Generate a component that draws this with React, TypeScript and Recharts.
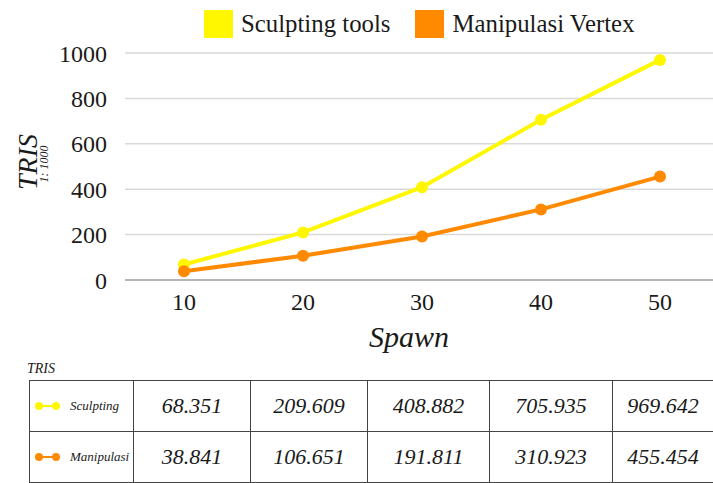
import React from 'react';
import { LineChart, Line, XAxis, YAxis, CartesianGrid, Label } from 'recharts';

const spawnCategories = [10, 20, 30, 40, 50];
const sculptingValues = [68.351, 209.609, 408.882, 705.935, 969.642];
const manipulasiValues = [38.841, 106.651, 191.811, 310.923, 455.454];
const yTicks = [0, 200, 400, 600, 800, 1000];
const seriesNames = ['Sculpting tools', 'Manipulasi Vertex'];
const seriesKeys = ['sculpting', 'manipulasi'];
const seriesColors = ['#FFF700', '#FF8A00'];
const tableRowLabels = ['Sculpting', 'Manipulasi'];
const seriesValues = [sculptingValues, manipulasiValues];

const data = spawnCategories.map((s, i) => ({
  spawn: s,
  sculpting: sculptingValues[i],
  manipulasi: manipulasiValues[i],
}));

const FONT = 'Liberation Serif';
const colWidths = [104, 117, 117, 122, 123, 101];

const YLabel = (props: any) => {
  const vb = props.viewBox || { x: 0 };
  const x0 = vb.x ?? 0;
  return (
    <g>
      <text
        x={x0 + 27}
        y={162}
        transform={`rotate(-90 ${x0 + 27} 162)`}
        textAnchor="middle"
        dominantBaseline="central"
        fontFamily={FONT}
        fontStyle="italic"
        fontSize={28}
        fill="#1a1a1a"
      >
        TRIS
      </text>
      <text
        x={x0 + 44}
        y={164}
        transform={`rotate(-90 ${x0 + 44} 164)`}
        textAnchor="middle"
        dominantBaseline="central"
        fontFamily={FONT}
        fontStyle="italic"
        fontSize={12}
        fill="#1a1a1a"
      >
        1: 1000
      </text>
    </g>
  );
};

export default function App() {
  return (
    <div style={{ position: 'absolute', left: 0, top: 0, width: 713, height: 483, background: '#fff', overflow: 'hidden', fontFamily: FONT }}>
      <div style={{ position: 'absolute', left: 204, top: 10, display: 'flex', alignItems: 'center', height: 28 }}>
        {seriesNames.map((name, i) => (
          <div key={name} style={{ display: 'flex', alignItems: 'center', marginRight: i === 0 ? 25 : 0 }}>
            <div style={{ width: 29, height: 28, background: seriesColors[i], marginRight: 8 }} />
            <span style={{ fontFamily: FONT, fontSize: 24.8, color: '#1a1a1a', lineHeight: '28px', whiteSpace: 'nowrap' }}>{name}</span>
          </div>
        ))}
      </div>

      <div style={{ position: 'absolute', left: 0, top: 0 }}>
        <LineChart width={713} height={360} data={data} margin={{ top: 53, right: 0, bottom: 0, left: 0 }} style={{ fontFamily: FONT }}>
          <CartesianGrid vertical={false} stroke="#d9d9d9" strokeWidth={1.5} />
          <XAxis
            dataKey="spawn"
            type="category"
            padding={{ left: 59, right: 53 }}
            height={80}
            axisLine={{ stroke: '#a6a6a6', strokeWidth: 1.5 }}
            tickLine={false}
            tickSize={0}
            tickMargin={13}
            interval={0}
            tick={{ fontSize: 24, fill: '#1a1a1a', fontFamily: FONT }}
          >
            <Label
              value="Spawn"
              position="insideBottom"
              offset={13}
              dx={-10}
              fontFamily={FONT}
              fontSize={30}
              fontStyle="italic"
              fill="#1a1a1a"
            />
          </XAxis>
          <YAxis
            domain={[0, 1000]}
            ticks={yTicks}
            interval={0}
            width={125}
            axisLine={false}
            tickLine={false}
            tickSize={0}
            tickMargin={18}
            tick={{ fontSize: 24, fill: '#1a1a1a', fontFamily: FONT }}
          >
            <Label content={YLabel} />
          </YAxis>
          {seriesKeys.map((k, i) => (
            <Line
              key={k}
              type="linear"
              dataKey={k}
              name={seriesNames[i]}
              stroke={seriesColors[i]}
              strokeWidth={4}
              dot={{ r: 6, fill: seriesColors[i], stroke: seriesColors[i], strokeWidth: 0 }}
              activeDot={false}
              isAnimationActive={false}
            />
          ))}
        </LineChart>
      </div>

      <div style={{ position: 'absolute', left: 27, top: 362, fontFamily: FONT, fontSize: 14, fontStyle: 'italic', color: '#1a1a1a', lineHeight: '14px' }}>
        TRIS
      </div>
      <div
        style={{
          position: 'absolute',
          left: 29,
          top: 380,
          display: 'grid',
          gridTemplateColumns: colWidths.map((w) => `${w}px`).join(' '),
          gridTemplateRows: '51px 51px',
          borderTop: '1px solid #444',
          borderLeft: '1px solid #444',
          boxSizing: 'border-box',
          fontFamily: FONT,
        }}
      >
        {tableRowLabels.map((label, r) => (
          <React.Fragment key={label}>
            <div
              style={{
                boxSizing: 'border-box',
                borderRight: '1px solid #444',
                borderBottom: '1px solid #444',
                display: 'flex',
                alignItems: 'center',
                paddingLeft: 4,
              }}
            >
              <svg width={30} height={12} style={{ display: 'block' }}>
                <line x1={5} y1={6} x2={22} y2={6} stroke={seriesColors[r]} strokeWidth={2} />
                <circle cx={5} cy={6} r={4} fill={seriesColors[r]} />
                <circle cx={22} cy={6} r={4} fill={seriesColors[r]} />
              </svg>
              <span style={{ marginLeft: 6, fontSize: 13, fontStyle: 'italic', color: '#1a1a1a' }}>{label}</span>
            </div>
            {seriesValues[r].map((v, c) => (
              <div
                key={c}
                style={{
                  boxSizing: 'border-box',
                  borderRight: '1px solid #444',
                  borderBottom: '1px solid #444',
                  display: 'flex',
                  alignItems: 'center',
                  justifyContent: 'center',
                  fontSize: 22,
                  fontStyle: 'italic',
                  color: '#1a1a1a',
                }}
              >
                {v.toFixed(3)}
              </div>
            ))}
          </React.Fragment>
        ))}
      </div>
    </div>
  );
}
